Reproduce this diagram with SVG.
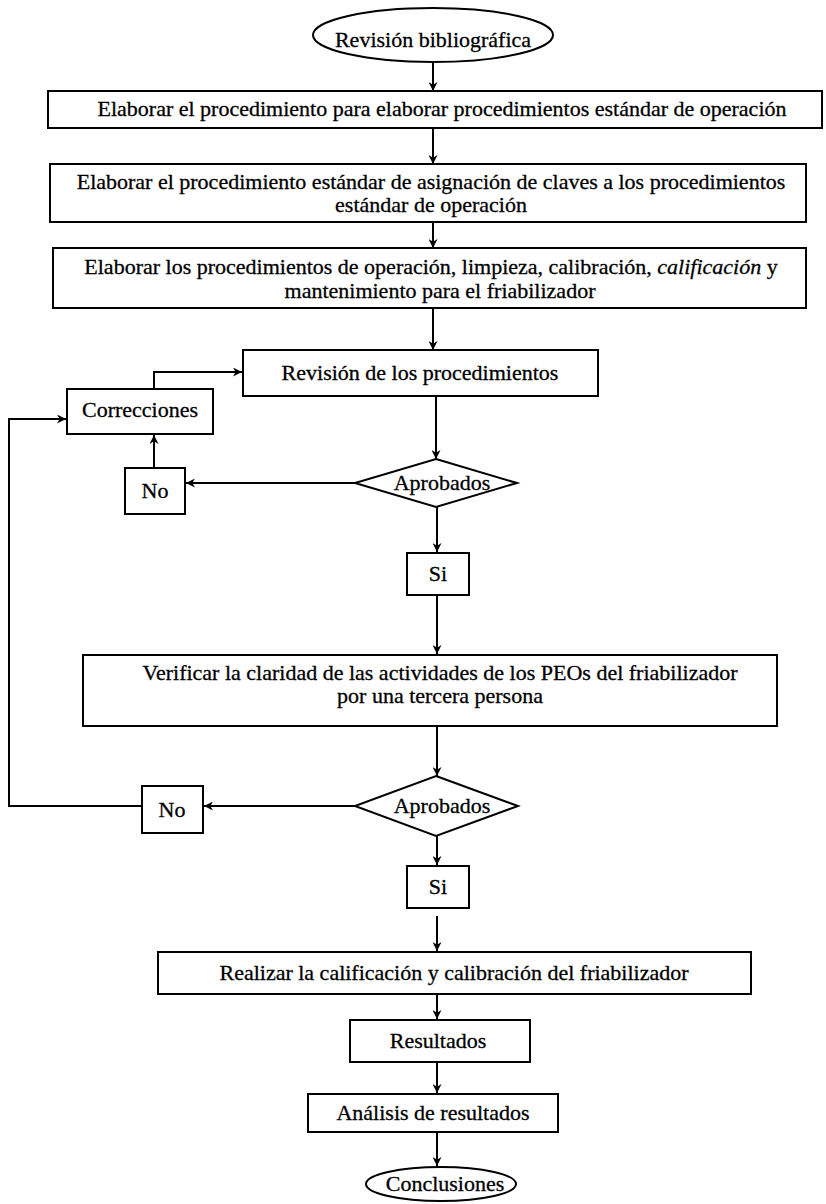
<svg xmlns="http://www.w3.org/2000/svg" width="826" height="1204" viewBox="0 0 826 1204">
  <style>
    .box { fill: #fff; stroke: #000; stroke-width: 2; }
    .lbl { font-family: "Liberation Serif", "Times New Roman", serif; font-size: 22px; fill: #000; stroke: #000; stroke-width: 0.3; text-anchor: middle; }
    .con { fill: none; stroke: #000; stroke-width: 2; }
  </style>
  <defs>
    <marker id="arrow" viewBox="0 0 10 10" refX="10" refY="5" markerWidth="9" markerHeight="9" markerUnits="userSpaceOnUse" orient="auto">
      <path d="M0,0 L10,5 L0,10 L3,5 Z" fill="#000"/>
    </marker>
  </defs>
  <rect width="826" height="1204" fill="#fff"/>

  <!-- connectors -->
  <g id="connectors" class="con" marker-end="url(#arrow)">
    <path d="M433,62 V91"/>
    <path d="M433,128 V164"/>
    <path d="M433,222 V248"/>
    <path d="M433,308 V350"/>
    <path d="M436,396 V459"/>
    <path d="M355,483 H186"/>
    <path d="M154,468 V435"/>
    <path d="M154,389 V372 H242"/>
    <path d="M437,507 V552"/>
    <path d="M437,595 V654"/>
    <path d="M437,726 V776"/>
    <path d="M355,806 H204"/>
    <path d="M142,806 H9 V419 H66"/>
    <path d="M437,836 V865"/>
    <path d="M437,916 V951"/>
    <path d="M437,994 V1019"/>
    <path d="M437,1062 V1093"/>
    <path d="M437,1132 V1166"/>
  </g>

  <g id="inicio">
    <ellipse class="box" cx="433" cy="35" rx="120" ry="27"/>
    <text class="lbl" x="433" y="47">Revisión bibliográfica</text>
  </g>

  <g id="paso1">
    <rect class="box" x="48" y="91" width="774" height="37"/>
    <text class="lbl" x="442" y="116">Elaborar el procedimiento para elaborar procedimientos estándar de operación</text>
  </g>

  <g id="paso2">
    <rect class="box" x="50" y="164" width="756" height="58"/>
    <text class="lbl" x="431" y="189">Elaborar el procedimiento estándar de asignación de claves a los procedimientos</text>
    <text class="lbl" x="431" y="212">estándar de operación</text>
  </g>

  <g id="paso3">
    <rect class="box" x="53" y="248" width="753" height="60"/>
    <text class="lbl" x="431" y="274">Elaborar los procedimientos de operación, limpieza, calibración, <tspan font-style="italic">calificación</tspan> y</text>
    <text class="lbl" x="440" y="298">mantenimiento para el friabilizador</text>
  </g>

  <g id="revision">
    <rect class="box" x="243" y="350" width="355" height="46"/>
    <text class="lbl" x="420" y="380">Revisión de los procedimientos</text>
  </g>

  <g id="correcciones">
    <rect class="box" x="67" y="389" width="146" height="45"/>
    <text class="lbl" x="140" y="417">Correcciones</text>
  </g>

  <g id="no1">
    <rect class="box" x="125" y="468" width="60" height="46"/>
    <text class="lbl" x="155" y="498">No</text>
  </g>

  <g id="decision1">
    <polygon class="box" points="436,459 517,483 436,507 355,483"/>
    <text class="lbl" x="442" y="490">Aprobados</text>
  </g>

  <g id="si1">
    <rect class="box" x="407" y="553" width="62" height="42"/>
    <text class="lbl" x="438" y="581">Si</text>
  </g>

  <g id="verificar">
    <rect class="box" x="83" y="655" width="694" height="71"/>
    <text class="lbl" x="440" y="680">Verificar la claridad de las actividades de los PEOs del friabilizador</text>
    <text class="lbl" x="440" y="703">por una tercera persona</text>
  </g>

  <g id="decision2">
    <polygon class="box" points="436,776 518,806 436,836 355,806"/>
    <text class="lbl" x="442" y="813">Aprobados</text>
  </g>

  <g id="no2">
    <rect class="box" x="142" y="786" width="61" height="47"/>
    <text class="lbl" x="172" y="817">No</text>
  </g>

  <g id="si2">
    <rect class="box" x="407" y="866" width="62" height="42"/>
    <text class="lbl" x="438" y="894">Si</text>
  </g>

  <g id="calificacion">
    <rect class="box" x="158" y="952" width="593" height="42"/>
    <text class="lbl" x="454" y="980">Realizar la calificación y calibración del friabilizador</text>
  </g>

  <g id="resultados">
    <rect class="box" x="350" y="1020" width="180" height="42"/>
    <text class="lbl" x="438" y="1048">Resultados</text>
  </g>

  <g id="analisis">
    <rect class="box" x="308" y="1094" width="250" height="38"/>
    <text class="lbl" x="433" y="1120">Análisis de resultados</text>
  </g>

  <g id="fin">
    <ellipse class="box" cx="441" cy="1184" rx="75" ry="17"/>
    <text class="lbl" x="445" y="1191">Conclusiones</text>
  </g>
</svg>
